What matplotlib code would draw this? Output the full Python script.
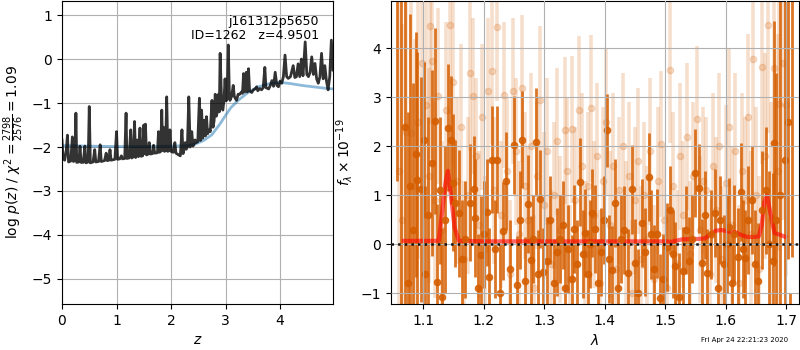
import numpy as np
import matplotlib
matplotlib.use('Agg')
import matplotlib.pyplot as plt

# redshift grid and log p(z) from the template fit
z_grid = [0.00, 0.02, 0.05, 0.08, 0.10, 0.12, 0.16, 0.19, 0.21, 0.24, 0.255, 0.27, 0.31, 0.33, 0.35,
          0.39, 0.42, 0.44, 0.48, 0.50, 0.52, 0.57, 0.60, 0.62, 0.67, 0.70, 0.72, 0.78, 0.81, 0.83,
          0.86, 0.88, 0.90, 0.97, 1.00, 1.02, 1.06, 1.09, 1.11, 1.15, 1.175, 1.19, 1.23, 1.26, 1.28,
          1.31, 1.33, 1.35, 1.38, 1.40, 1.43, 1.45, 1.48, 1.50, 1.515, 1.53, 1.55, 1.58, 1.60, 1.62,
          1.66, 1.68, 1.70, 1.75, 1.77, 1.79, 1.81, 1.83, 1.845, 1.86, 1.88, 1.90, 1.92, 1.94, 1.96,
          1.98, 2.00, 2.04, 2.07, 2.09, 2.14, 2.17, 2.20, 2.22, 2.24, 2.26, 2.28, 2.30, 2.325, 2.35,
          2.38, 2.40, 2.42, 2.44, 2.46, 2.49, 2.52, 2.54, 2.56, 2.58, 2.61, 2.63, 2.65, 2.67, 2.70,
          2.72, 2.75, 2.77, 2.79, 2.81, 2.83, 2.85, 2.87, 2.885, 2.90, 2.93, 2.95, 2.97, 2.99, 3.01,
          3.03, 3.05, 3.07, 3.08, 3.11, 3.14, 3.16, 3.20, 3.23, 3.26, 3.29, 3.31, 3.33, 3.35, 3.38,
          3.40, 3.42, 3.44, 3.48, 3.51, 3.54, 3.57, 3.59, 3.63, 3.66, 3.69, 3.72, 3.74, 3.79, 3.82,
          3.85, 3.88, 3.91, 3.94, 3.97, 4.00, 4.03, 4.06, 4.09, 4.12, 4.15, 4.19, 4.24, 4.27, 4.30,
          4.33, 4.36, 4.39, 4.42, 4.46, 4.49, 4.52, 4.55, 4.58, 4.61, 4.64, 4.67, 4.70, 4.73, 4.76,
          4.79, 4.82, 4.85, 4.88, 4.91, 4.94, 4.97]
log_pz = [-1.84, -2.27, -2.30, -2.05, -1.73, -2.34, -2.32, -1.77, -2.33, -2.30, -1.23, -2.35, -2.34, -1.98, -2.35,
          -2.35, -1.98, -2.36, -2.34, -1.08, -2.36, -2.34, -2.06, -2.34, -2.33, -1.95, -2.33, -2.31, -2.14, -2.31,
          -2.30, -2.06, -2.30, -2.28, -1.65, -2.28, -2.27, -2.20, -2.27, -2.26, -1.23, -2.26, -2.25, -1.61, -2.25,
          -2.22, -1.42, -2.24, -1.84, -2.22, -1.57, -2.21, -2.20, -1.50, -2.15, -1.48, -2.18, -2.16, -1.90, -2.16,
          -2.15, -1.96, -2.14, -2.13, -1.65, -2.12, -2.10, -1.16, -2.08, -1.55, -2.10, -2.08, -0.86, -2.10, -2.08,
          -1.61, -2.10, -2.12, -1.90, -2.14, -2.18, -2.20, -1.61, -2.15, -2.05, -1.90, -2.05, -2.00, -0.86, -2.00,
          -1.65, -1.98, -1.95, -1.84, -1.90, -1.88, -0.89, -1.85, -1.16, -1.80, -1.39, -1.75, -1.31, -1.70, -1.61,
          -1.65, -0.94, -1.55, -1.40, -0.80, -1.30, -1.20, -0.80, -1.20, 0.13, -1.10, -1.16, -0.95, -0.45, -0.95,
          -0.90, 0.32, -0.85, -0.94, -0.85, -0.60, -0.85, -0.94, -0.80, -0.80, -0.75, -0.78, -0.33, -0.75, -0.30,
          -0.75, -0.22, -0.72, -0.76, -0.70, -0.68, -0.63, -0.72, -0.67, -0.70, -0.65, -0.19, -0.65, -0.68, -0.60,
          -0.49, -0.62, -0.30, -0.60, -0.63, -0.50, -0.55, -0.40, 0.09, -0.40, -0.44, -0.40, -0.15, -0.42, -0.40,
          -0.11, -0.40, 0.00, -0.38, 0.39, -0.35, -0.40, -0.30, 0.05, -0.35, -0.10, -0.45, -0.55, -0.40, 0.13,
          -0.45, -0.15, -0.50, -0.70, -0.40, 0.43, -0.25]

# smooth prior curve
z_prior = [0.0, 0.5, 1.0, 1.5, 2.0, 2.3, 2.45, 2.6, 2.75, 2.9, 3.0, 3.1, 3.25, 3.4, 3.6, 3.8, 4.0,
           4.2, 4.4, 4.6, 4.8, 4.97]
log_prior = [-1.97, -1.98, -1.99, -1.99, -1.98, -1.97, -1.93, -1.85, -1.72, -1.47, -1.28, -1.10, -0.92,
             -0.77, -0.63, -0.56, -0.53, -0.56, -0.60, -0.63, -0.66, -0.68]

# G141 spectrum, first beam
wave_a = [1.0575, 1.063, 1.070, 1.075, 1.078, 1.084, 1.088, 1.090, 1.096, 1.101, 1.103, 1.108, 1.114, 1.119,
          1.123, 1.128, 1.131, 1.136, 1.141, 1.147, 1.150, 1.153, 1.159, 1.164, 1.170, 1.177, 1.184, 1.186,
          1.191, 1.195, 1.200, 1.205, 1.209, 1.214, 1.219, 1.223, 1.228, 1.232, 1.237, 1.243, 1.250, 1.255,
          1.260, 1.264, 1.269, 1.273, 1.278, 1.282, 1.286, 1.290, 1.294, 1.299, 1.305, 1.310, 1.316, 1.322,
          1.326, 1.331, 1.335, 1.339, 1.346, 1.350, 1.355, 1.360, 1.364, 1.368, 1.372, 1.376, 1.380, 1.385,
          1.390, 1.394, 1.399, 1.404, 1.408, 1.413, 1.418, 1.423, 1.428, 1.432, 1.439, 1.445, 1.450, 1.455,
          1.462, 1.467, 1.473, 1.477, 1.481, 1.487, 1.492, 1.497, 1.503, 1.509, 1.513, 1.517, 1.523, 1.529,
          1.534, 1.540, 1.545, 1.550, 1.556, 1.561, 1.566, 1.570, 1.576, 1.583, 1.587, 1.591, 1.597, 1.602,
          1.606, 1.610, 1.614, 1.620, 1.625, 1.629, 1.633, 1.638, 1.644, 1.648, 1.653, 1.660, 1.667, 1.672,
          1.678, 1.680, 1.684, 1.690, 1.698, 1.703, 1.706, 1.710]
flux_a = [5.5, -1.5, 2.39, -0.79, 1.2, 0.3, 1.84, 1.32, 1.12, 2.13, -0.61, 0.6, 1.67, 2.52,
          -0.78, 1.10, -1.07, 0.5, 2.38, 2.13, 1.26, 0.84, 0.63, -0.3, 0.1, 0.85, 1.12, 0.54,
          -0.9, -0.22, 0.2, 0.65, -0.66, 1.73, -0.1, 1.73, -1.0, 0.27, 1.30, -0.51, 2.03, -0.83,
          0.5, 2.14, -0.76, 0.82, -0.32, 0.1, 2.09, -0.6, 0.93, -0.56, -0.34, 0.5, -0.80, -0.15,
          0.1, 0.39, -0.9, -0.1, -0.71, 0.32, -0.4, 1.28, -0.2, 0.23, -0.61, 0.0, 0.63, 0.32,
          -0.8, -0.15, 0.5, 2.33, -0.3, -0.52, 0.84, -0.9, 0.1, 0.3, -0.58, 1.12, -0.38, -1.0,
          0.44, -0.16, 1.38, 0.2, -0.5, 0.22, -1.1, -0.70, -0.05, 0.70, -0.2, -0.45, -1.08, -0.55,
          0.3, -0.35, 0.1, 1.45, 1.14, -0.38, 0.6, -0.58, 0.2, 0.63, -0.9, 0.49, -0.41, 0.0,
          0.36, -0.8, 0.22, -0.25, 1.06, -0.1, -0.29, 0.5, 0.91, -0.4, -0.76, 0.70, 1.10, 0.0,
          -0.35, 2.06, 0.5, 1.0, 1.73, 2.5, -2.0, 5.3]
err_a = [4.2, 6.5, 4.0, 3.5, 3.5, 3.0, 2.5, 2.6, 2.3, 1.6, 1.8, 2.0, 1.9, 1.9,
         1.6, 1.5, 1.4, 1.5, 1.3, 1.3, 1.4, 1.3, 1.3, 1.2, 1.2, 1.2, 1.1, 1.2,
         1.1, 1.2, 1.1, 1.1, 1.0, 1.1, 1.0, 1.1, 1.0, 1.0, 1.0, 1.0, 1.0, 1.0,
         1.0, 1.0, 0.9, 1.0, 0.9, 0.9, 1.1, 0.9, 1.0, 0.9, 0.9, 0.9, 0.9, 0.9,
         0.9, 0.9, 0.9, 0.9, 0.9, 0.9, 0.9, 0.9, 0.9, 0.9, 0.9, 0.9, 0.9, 0.9,
         0.9, 0.9, 0.9, 0.75, 0.9, 0.9, 0.9, 0.9, 0.9, 0.9, 0.9, 0.9, 0.9, 0.9,
         0.9, 0.9, 0.9, 0.9, 0.9, 0.9, 0.9, 0.9, 0.9, 0.9, 0.9, 0.9, 0.9, 0.9,
         0.9, 0.9, 0.9, 0.9, 0.9, 0.9, 0.9, 0.9, 0.9, 0.9, 0.9, 0.9, 1.0, 1.0,
         1.0, 1.0, 1.0, 1.0, 1.0, 1.0, 1.0, 1.1, 1.1, 1.1, 1.2, 1.2, 1.3, 1.5,
         1.8, 2.5, 3.0, 4.0, 3.5, 2.8, 1.0, 5.56]

# G141 spectrum, second beam
wave_b = [1.060, 1.066, 1.072, 1.080, 1.086, 1.092, 1.098, 1.105, 1.110, 1.112, 1.115, 1.120, 1.125,
          1.132, 1.138, 1.145, 1.150, 1.156, 1.162, 1.168, 1.174, 1.178, 1.182, 1.188, 1.193, 1.198,
          1.203, 1.208, 1.214, 1.218, 1.223, 1.229, 1.233, 1.238, 1.244, 1.248, 1.253, 1.258, 1.263,
          1.268, 1.273, 1.279, 1.284, 1.289, 1.294, 1.300, 1.305, 1.311, 1.316, 1.321, 1.327, 1.334,
          1.338, 1.343, 1.347, 1.352, 1.357, 1.362, 1.367, 1.373, 1.378, 1.383, 1.388, 1.393, 1.398,
          1.403, 1.409, 1.414, 1.419, 1.424, 1.430, 1.435, 1.440, 1.446, 1.451, 1.456, 1.461, 1.466,
          1.471, 1.476, 1.482, 1.488, 1.493, 1.499, 1.504, 1.508, 1.514, 1.519, 1.525, 1.530, 1.536,
          1.541, 1.547, 1.553, 1.558, 1.563, 1.568, 1.574, 1.579, 1.585, 1.590, 1.595, 1.600, 1.605,
          1.611, 1.616, 1.622, 1.627, 1.632, 1.637, 1.642, 1.646, 1.651, 1.656, 1.660, 1.665, 1.670,
          1.675, 1.680, 1.686, 1.689, 1.695, 1.700]
flux_b = [1.5, 0.5, 2.3, 2.28, 1.2, 2.5, 3.7, 2.85, 1.4, 4.45, 3.75, 0.9, 3.03,
          0.3, 2.75, 4.47, 3.32, 1.3, 2.4, -0.3, 1.0, 3.50, 3.03, 1.8, 0.4, 2.6,
          -0.1, 3.13, 3.54, 1.1, 4.43, 0.6, 3.05, 1.5, -0.6, 3.13, 1.9, 0.2, 3.19,
          1.2, 0.5, 2.0, -0.9, 1.4, 2.95, 0.8, 1.9, -0.4, 1.0, 2.1, 0.3, 2.33,
          1.5, -0.7, 2.35, 0.9, 2.75, 1.6, -0.2, 1.2, 2.78, 0.6, 1.8, -0.8, 1.3,
          2.5, 0.4, 1.6, -0.5, 1.1, 2.0, 0.2, 1.4, -1.0, 0.9, 1.7, -0.3, 1.0,
          0.1, 1.9, -0.7, 1.3, 2.05, 0.5, -0.9, 3.57, 1.2, -0.4, 1.8, 0.6, 2.2,
          -0.2, 1.4, 2.56, 0.3, 1.3, 1.1, -0.6, 1.6, 0.7, 2.0, -0.3, 1.25, 2.4,
          0.4, 1.9, -0.8, 1.5, 0.9, 2.6, 0.2, 3.78, 1.0, -0.5, 3.63, 1.8, 4.47,
          0.5, 3.60, 1.5, 2.86, 3.70, 2.85]
err_b = [4.0, 4.0, 3.5, 3.0, 3.0, 2.8, 2.5, 2.2, 2.2, 2.0, 2.0, 2.0, 1.8,
         1.8, 1.8, 1.8, 1.7, 1.7, 1.7, 1.6, 1.6, 1.6, 1.6, 1.6, 1.5, 1.5,
         1.5, 1.5, 1.5, 1.5, 1.5, 1.5, 1.5, 1.5, 1.5, 1.5, 1.5, 1.5, 1.5,
         1.5, 1.5, 1.5, 1.5, 1.5, 1.5, 1.5, 1.5, 1.5, 1.5, 1.5, 1.5, 1.5,
         1.5, 1.5, 1.5, 1.5, 1.5, 1.5, 1.5, 1.5, 1.5, 1.5, 1.5, 1.5, 1.5,
         1.5, 1.5, 1.5, 1.5, 1.5, 1.5, 1.5, 1.5, 1.5, 1.5, 1.5, 1.5, 1.5,
         1.5, 1.5, 1.5, 1.5, 1.5, 1.5, 1.5, 1.5, 1.5, 1.5, 1.5, 1.5, 1.5,
         1.5, 1.5, 1.5, 1.5, 1.5, 1.5, 1.5, 1.5, 1.5, 1.5, 1.5, 1.6, 1.6,
         1.6, 1.6, 1.6, 1.6, 1.7, 1.7, 1.7, 1.8, 1.8, 1.9, 2.0, 2.1, 2.2,
         2.4, 2.6, 2.8, 3.0, 3.2, 3.5]

# best-fit model at z=4.95
wave_model = [1.068, 1.100, 1.126, 1.131, 1.137, 1.141, 1.146, 1.152, 1.159, 1.200, 1.300, 1.400, 1.500,
              1.510, 1.528, 1.555, 1.566, 1.575, 1.584, 1.594, 1.605, 1.616, 1.626, 1.636, 1.646, 1.655,
              1.660, 1.664, 1.6686, 1.674, 1.681, 1.691, 1.699]
flux_model = [0.07, 0.07, 0.07, 0.6, 1.25, 1.5, 1.0, 0.35, 0.07, 0.06, 0.06, 0.06, 0.06,
              0.05, 0.10, 0.11, 0.12, 0.20, 0.28, 0.29, 0.26, 0.25, 0.19, 0.15, 0.15, 0.16,
              0.40, 0.85, 1.0, 0.65, 0.23, 0.19, 0.15]

g141_color = (0.835, 0.369, 0.0)

fig = plt.figure(figsize=(8, 3.5), dpi=100)
ax = fig.add_axes([62 / 800, 46 / 350, 271 / 800, 303 / 350])
ax1 = fig.add_axes([391 / 800, 46 / 350, 408 / 800, 303 / 350])

# p(z) panel
ax.plot(z_prior, log_prior, color='tab:blue', alpha=0.5, lw=2)
ax.plot(z_grid, log_pz, color='k', alpha=0.8, lw=2)
ax.set_xlim(0, 4.97)
ax.set_ylim(-5.57, 1.32)
ax.set_xticks([0, 1, 2, 3, 4])
ax.set_yticks([-5, -4, -3, -2, -1, 0, 1])
ax.grid(True)
ax.set_xlabel('$z$')
ax.set_ylabel(r'log $p(z)$ / $\chi^2=\frac{2798}{2576}=1.09$')
ax.text(0.948, 0.955, 'j161312p5650\nID=1262   z=4.9501', transform=ax.transAxes,
        ha='right', va='top', fontsize=9, linespacing=1.1)

# spectrum panel
ax1.errorbar(wave_b, flux_b, yerr=err_b, color=g141_color, alpha=0.2, marker='o',
             markersize=4.5, linestyle='None', elinewidth=2.6, capsize=0)
ax1.errorbar(wave_a, flux_a, yerr=err_a, color=g141_color, alpha=0.85, marker='o',
             markersize=4.5, linestyle='None', elinewidth=2.0, capsize=0)
ax1.plot(wave_model, flux_model, color='r', alpha=0.6, lw=3)
ax1.axhline(0, color='k', linestyle=':', lw=1.8, alpha=0.9, zorder=5)
ax1.set_xlim(1.047, 1.7215)
ax1.set_ylim(-1.22, 4.97)
ax1.set_xticks([1.1, 1.2, 1.3, 1.4, 1.5, 1.6, 1.7])
ax1.set_yticks([-1, 0, 1, 2, 3, 4])
ax1.set_axisbelow(False)
ax1.grid(True)
ax1.set_xlabel(r'$\lambda$')
ax1.set_ylabel(r'$f_\lambda \times 10^{-19}$')

fig.text(0.985, 0.02, 'Fri Apr 24 22:21:23 2020', ha='right', va='bottom', fontsize=5)

fig.savefig('out.png', dpi=100)
